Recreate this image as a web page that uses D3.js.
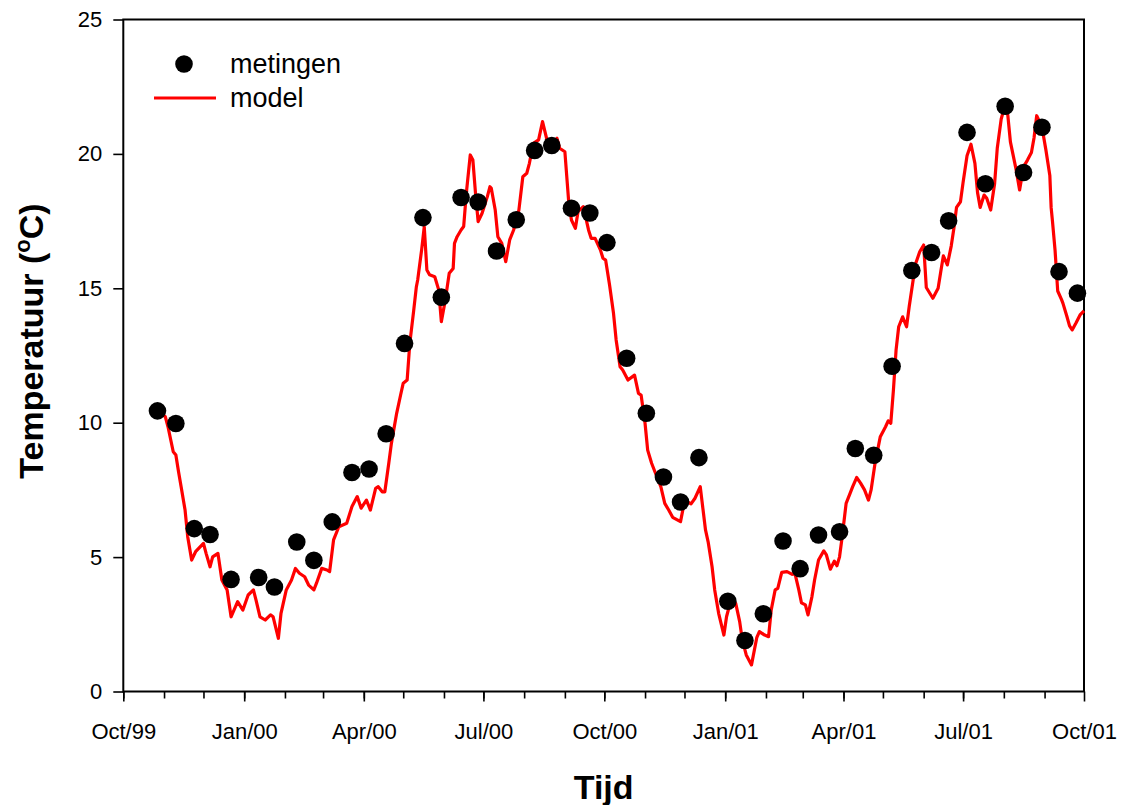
<!DOCTYPE html>
<html>
<head>
<meta charset="utf-8">
<script src="https://cdn.jsdelivr.net/npm/d3@7"></script>
<style>
  html, body { margin: 0; padding: 0; background: #fff; }
  svg { display: block; font-family: "Liberation Sans", Arial, Helvetica, sans-serif; }
</style>
</head>
<body>
<svg id="chart" width="1124" height="805"></svg>
<script>
// Water temperature: measurements (metingen) and model output, Oct 1999 – Oct 2001

const seriesStart = "1999-10-01";
const seriesEnd = "2001-10-01";

// Measurement dates and temperatures (°C)
const measDates = [
  "1999-10-27", "1999-11-10", "1999-11-24", "1999-12-06", "1999-12-22",
  "2000-01-12", "2000-01-24", "2000-02-10", "2000-02-23", "2000-03-08",
  "2000-03-23", "2000-04-05", "2000-04-18", "2000-05-02", "2000-05-16",
  "2000-05-30", "2000-06-14", "2000-06-27", "2000-07-11", "2000-07-26",
  "2000-08-09", "2000-08-22", "2000-09-06", "2000-09-20", "2000-10-03",
  "2000-10-18", "2000-11-02", "2000-11-15", "2000-11-28", "2000-12-12",
  "2001-01-03", "2001-01-16", "2001-01-30", "2001-02-14", "2001-02-27",
  "2001-03-13", "2001-03-29", "2001-04-10", "2001-04-24", "2001-05-08",
  "2001-05-23", "2001-06-07", "2001-06-20", "2001-07-04", "2001-07-18",
  "2001-08-02", "2001-08-16", "2001-08-30", "2001-09-12", "2001-09-26"
];
const measTemp = [
  10.44, 9.97, 6.06, 5.84, 4.17,
  4.24, 3.89, 5.56, 4.88, 6.31,
  8.15, 8.28, 9.59, 12.95, 17.63,
  14.67, 18.38, 18.21, 16.39, 17.55,
  20.13, 20.31, 17.98, 17.80, 16.70,
  12.40, 10.35, 7.98, 7.05, 8.70,
  3.36, 1.90, 2.89, 5.60, 4.57,
  5.82, 5.94, 9.04, 8.79, 12.10,
  15.66, 16.33, 17.51, 20.80, 18.89,
  21.77, 19.31, 20.99, 15.62, 14.82
];

// Model output: day number counted from 1 Oct 1999, and temperature (°C)
const modelDay = [
  30, 32, 34, 38, 40, 42, 44, 47, 49, 52, 55, 61, 63, 66, 68, 72, 75, 79, 82, 87,
  91, 95, 99, 101, 104, 108, 112, 114, 118, 120, 124, 128, 131, 134, 138, 141, 145, 147, 151, 155,
  157, 160, 164, 170, 174, 178, 181, 185, 188, 192, 194, 197, 199, 202, 204, 208, 211, 213, 216, 218,
  221, 223, 224, 227, 229, 231, 233, 237, 240, 242, 245, 248, 251, 252, 254, 257, 259, 261, 264, 266,
  268, 270, 273, 277, 279, 280, 283, 285, 288, 291, 294, 297, 301, 304, 307, 309, 312, 316, 319, 323,
  326, 330, 332, 336, 339, 341, 344, 346, 350, 354, 356, 359, 363, 365, 367, 370, 373, 375, 378, 380,
  384, 389, 392, 394, 397, 399, 402, 406, 409, 412, 415, 418, 424, 426, 429, 432, 435, 439, 443, 445,
  448, 450, 453, 457, 459, 462, 466, 469, 471, 474, 478, 482, 484, 488, 491, 493, 496, 498, 501, 505,
  509, 511, 514, 516, 519, 521, 524, 526, 529, 533, 535, 538, 541, 543, 545, 547, 550, 553, 555, 558,
  561, 564, 567, 569, 572, 576, 580, 582, 584, 586, 588, 590, 593, 596, 598, 601, 603, 606, 609, 611,
  616, 620, 622, 624, 627, 630, 632, 634, 637, 639, 642, 645, 648, 650, 652, 655, 657, 660, 663, 665,
  668, 670, 673, 675, 679, 682, 685, 688, 691, 693, 695, 699, 702, 705, 706, 707, 709, 711, 714, 715,
  718, 720, 722, 725, 728, 731
];
const modelTemp = [
  10.30, 10.22, 9.85, 8.92, 8.80, 8.18, 7.62, 6.75, 5.76, 4.89, 5.20, 5.51, 5.14, 4.64, 5.01, 5.14, 4.15, 3.78, 2.78, 3.34,
  3.03, 3.59, 3.78, 3.40, 2.78, 2.66, 2.85, 2.78, 1.98, 2.91, 3.78, 4.15, 4.58, 4.40, 4.27, 3.96, 3.78, 4.03, 4.58, 4.52,
  4.46, 5.64, 6.13, 6.26, 6.88, 7.25, 6.82, 7.12, 6.75, 7.56, 7.62, 7.43, 7.43, 8.49, 9.23, 10.35, 11.03, 11.47, 11.59, 12.95,
  14.19, 15.06, 15.31, 16.43, 17.29, 15.68, 15.50, 15.43, 14.94, 13.76, 14.56, 15.56, 15.74, 16.67, 16.92, 17.17, 17.30, 18.53, 19.96, 19.77,
  18.53, 17.48, 17.79, 18.41, 18.78, 18.72, 17.91, 16.92, 16.67, 15.99, 16.80, 17.17, 17.91, 19.15, 19.28, 19.65, 20.39, 20.52, 21.20, 20.39,
  20.39, 20.58, 20.21, 20.08, 18.16, 17.54, 17.23, 17.85, 18.04, 17.17, 16.86, 16.86, 16.43, 16.12, 16.05, 15.12, 14.07, 13.08, 12.08, 11.96,
  11.59, 11.77, 11.09, 11.03, 9.98, 8.98, 8.49, 7.99, 7.62, 7.00, 6.75, 6.48, 6.32, 6.82, 7.06, 6.98, 7.19, 7.62, 6.01, 5.57,
  4.64, 3.78, 2.91, 2.10, 2.78, 3.34, 3.28, 2.60, 1.92, 1.36, 0.99, 2.00, 2.23, 2.10, 2.04, 3.03, 3.78, 3.84, 4.43, 4.46,
  4.36, 4.40, 3.78, 3.30, 3.22, 2.85, 3.53, 4.15, 4.89, 5.23, 5.08, 4.55, 4.85, 4.68, 5.01, 5.76, 7.00, 7.37, 7.62, 7.96,
  7.75, 7.50, 7.12, 7.50, 8.49, 9.48, 9.85, 10.07, 9.98, 11.22, 12.70, 13.57, 13.94, 13.57, 14.32, 15.31, 15.93, 16.36, 16.61, 15.03,
  14.63, 15.00, 15.62, 16.21, 15.87, 16.58, 17.23, 18.01, 18.22, 18.94, 19.93, 20.36, 19.65, 18.56, 18.01, 18.47, 18.35, 17.91, 18.90, 20.21,
  21.30, 21.65, 21.45, 20.45, 19.50, 18.66, 19.52, 19.77, 20.05, 20.60, 21.42, 21.00, 20.15, 19.20, 18.00, 17.50, 16.40, 14.90, 14.57, 14.44,
  13.95, 13.60, 13.45, 13.72, 14.01, 14.16
];

// Axis ticks and labels
const xTickDates = ["1999-10-01", "2000-01-01", "2000-04-01", "2000-07-01", "2000-10-01",
                    "2001-01-01", "2001-04-01", "2001-07-01", "2001-10-01"];
const xTickLabels = ["Oct/99", "Jan/00", "Apr/00", "Jul/00", "Oct/00",
                     "Jan/01", "Apr/01", "Jul/01", "Oct/01"];
const yTicks = [0, 5, 10, 15, 20, 25];
const legendLabels = ["metingen", "model"];
const xTitle = "Tijd";

const parseDate = d3.timeParse("%Y-%m-%d");
const t0 = parseDate(seriesStart);

const svg = d3.select("#chart");
const plot = { left: 123.3, right: 1084, top: 19.5, bottom: 691.5 };

const x = d3.scaleTime()
  .domain([t0, parseDate(seriesEnd)])
  .range([plot.left, plot.right]);
const y = d3.scaleLinear()
  .domain([0, 25])
  .range([plot.bottom, plot.top]);

const fontTick = 22;

// Minor (monthly) ticks on the time axis
svg.append("g")
  .attr("transform", `translate(0,${plot.bottom})`)
  .call(d3.axisBottom(x)
    .tickValues(d3.timeMonth.range(t0, parseDate(seriesEnd)))
    .tickSizeInner(7).tickSizeOuter(0).tickFormat(""))
  .call(g => g.select(".domain").remove())
  .call(g => g.selectAll("line").attr("stroke", "#000").attr("stroke-width", 1.6));

// Major (quarterly) ticks with labels
const xTickVals = xTickDates.map(parseDate);
svg.append("g")
  .attr("transform", `translate(0,${plot.bottom})`)
  .call(d3.axisBottom(x)
    .tickValues(xTickVals)
    .tickSizeInner(10).tickSizeOuter(0).tickPadding(22)
    .tickFormat((d, i) => xTickLabels[i]))
  .call(g => g.select(".domain").remove())
  .call(g => g.selectAll("line").attr("stroke", "#000").attr("stroke-width", 1.6))
  .call(g => g.selectAll("text").attr("fill", "#000")
    .attr("font-size", fontTick).attr("font-family", null));

// Left axis
svg.append("g")
  .attr("transform", `translate(${plot.left},0)`)
  .call(d3.axisLeft(y).tickValues(yTicks)
    .tickSizeInner(10).tickSizeOuter(0).tickPadding(11))
  .call(g => g.select(".domain").remove())
  .call(g => g.selectAll("line").attr("stroke", "#000").attr("stroke-width", 1.6))
  .call(g => g.selectAll("text").attr("fill", "#000")
    .attr("font-size", fontTick).attr("font-family", null));

// Frame around the plot area
svg.append("rect")
  .attr("x", plot.left).attr("y", plot.top)
  .attr("width", plot.right - plot.left)
  .attr("height", plot.bottom - plot.top)
  .attr("fill", "none").attr("stroke", "#000").attr("stroke-width", 2);

// Model line
const modelData = modelDay.map((d, i) => ({ date: d3.timeDay.offset(t0, d), temp: modelTemp[i] }));
const line = d3.line().x(d => x(d.date)).y(d => y(d.temp));
svg.append("path")
  .datum(modelData)
  .attr("d", line)
  .attr("fill", "none")
  .attr("stroke", "#ff0000")
  .attr("stroke-width", 3.2)
  .attr("stroke-linejoin", "round");

// Measurements
const measData = measDates.map((d, i) => ({ date: parseDate(d), temp: measTemp[i] }));
svg.append("g")
  .selectAll("circle")
  .data(measData)
  .join("circle")
  .attr("cx", d => x(d.date))
  .attr("cy", d => y(d.temp))
  .attr("r", 8.8)
  .attr("fill", "#000");

// Legend
const legend = svg.append("g");
legend.append("circle").attr("cx", 184).attr("cy", 64).attr("r", 8.8).attr("fill", "#000");
legend.append("line").attr("x1", 154).attr("x2", 216).attr("y1", 98).attr("y2", 98)
  .attr("stroke", "#ff0000").attr("stroke-width", 3.2);
legend.selectAll("text.lbl")
  .data(legendLabels)
  .join("text")
  .attr("class", "lbl")
  .attr("x", 230)
  .attr("y", (d, i) => 73 + i * 34)
  .attr("font-size", 27)
  .attr("fill", "#000")
  .text(d => d);

// Axis titles
svg.append("text")
  .attr("x", (plot.left + plot.right) / 2)
  .attr("y", 799)
  .attr("text-anchor", "middle")
  .attr("font-size", 34)
  .attr("font-weight", "bold")
  .text(xTitle);

const yTitle = svg.append("text")
  .attr("transform", "translate(43,341) rotate(-90)")
  .attr("text-anchor", "middle")
  .attr("font-size", 34)
  .attr("font-weight", "bold");
yTitle.append("tspan").text("Temperatuur (");
yTitle.append("tspan").attr("font-size", 22).attr("dy", -13).text("o");
yTitle.append("tspan").attr("dy", 13).text("C)");
</script>
</body>
</html>
